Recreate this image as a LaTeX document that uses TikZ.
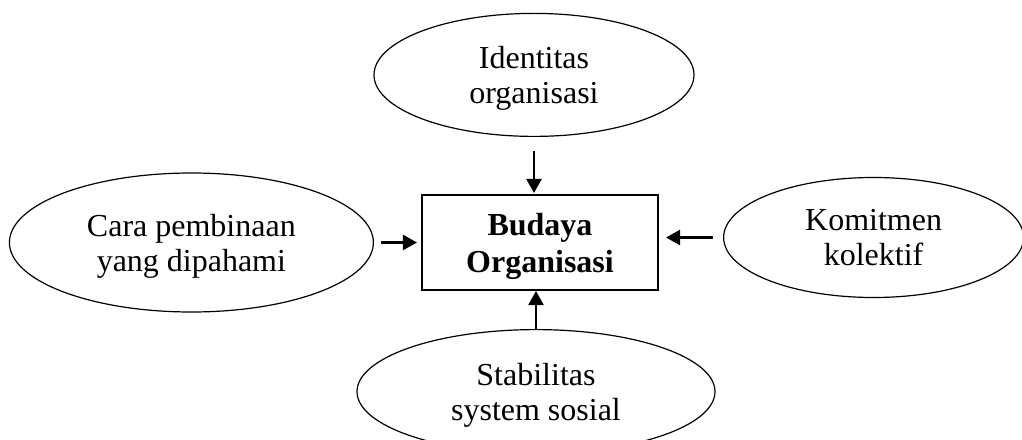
\documentclass[tikz,border=0pt]{standalone}
\usepackage{fontspec}
\setmainfont{Liberation Serif}
\usetikzlibrary{positioning,arrows.meta,shapes.geometric}

\begin{document}
\begin{tikzpicture}[
        node distance=50pt,
        elips/.style={draw, ellipse, line width=1.2pt, align=center, inner sep=0pt, text depth=-3pt, font=\fontsize{32}{35}\selectfont},
        kotak/.style={draw, rectangle, line width=2pt, align=center, minimum width=236pt, minimum height=95pt, text depth=-3pt, font=\fontsize{32}{37}\selectfont\bfseries},
        panah/.style={-{Triangle[length=14pt,width=15pt]}, line width=2.2pt}
    ]
        \clip (-540pt,242.5pt) rectangle (482pt,-196.5pt);
        \node[kotak] (budaya) {Budaya\\Organisasi};
        \node[elips, minimum width=320pt, minimum height=123pt, above=57pt of budaya, xshift=-6pt] (identitas) {Identitas\\organisasi};
        \node[elips, minimum width=364pt, minimum height=139pt, left=47pt of budaya] (cara) {Cara pembinaan\\yang dipahami};
        \node[elips, minimum width=300pt, minimum height=120pt, right=64pt of budaya, yshift=5pt] (komitmen) {Komitmen\\kolektif};
        \node[elips, minimum width=358pt, minimum height=124pt, below=38pt of budaya, xshift=-4pt] (stabilitas) {Stabilitas\\system sosial};
        \draw[panah, shorten <=14pt, shorten >=1pt] (identitas.south) -- (identitas.south |- budaya.north);
        \draw[panah, shorten <=7pt, shorten >=4pt] (cara.east) -- (cara.east -| budaya.west);
        \draw[panah, shorten <=10pt, shorten >=7pt] (komitmen.west) -- (komitmen.west -| budaya.east);
        \draw[panah] (stabilitas.north) -- (stabilitas.north |- budaya.south);
    \end{tikzpicture}
\end{document}
